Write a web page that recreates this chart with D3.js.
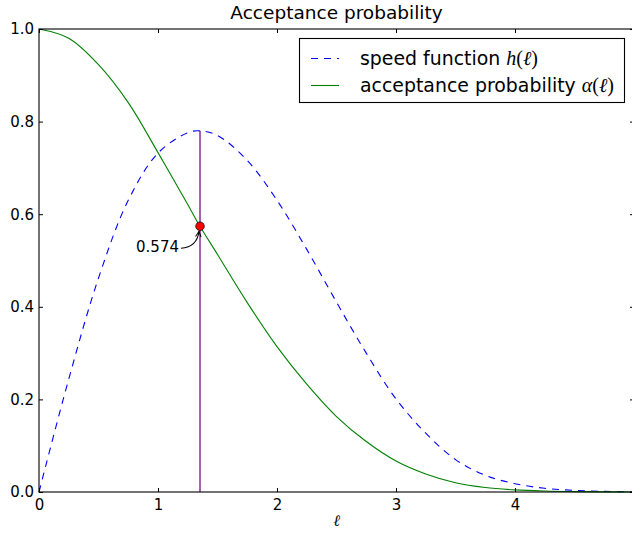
<!DOCTYPE html>
<html>
<head>
<meta charset="utf-8">
<script src="https://cdn.jsdelivr.net/npm/d3@7"></script>
<style>
  body { margin: 0; background: #fff; }
  text { font-family: "DejaVu Sans", sans-serif; fill: #000; }
  .math { font-family: "Liberation Serif", "DejaVu Serif", serif; }
</style>
</head>
<body>
<div id="chart"></div>
<script>
// values
var ell    = [0, 0.25, 0.5, 0.75, 1, 1.25, 1.35, 1.5, 1.75, 2, 2.25, 2.5, 2.75, 3, 3.25, 3.5, 3.75, 4, 4.25, 4.5, 4.75, 5];
var speed  = [0, 0.244, 0.462, 0.630, 0.732, 0.776, 0.780, 0.770, 0.716, 0.630, 0.524, 0.410, 0.300, 0.201, 0.127, 0.070, 0.036, 0.018, 0.008, 0.0035, 0.0013, 0.0005];
var accept = [1, 0.980, 0.923, 0.841, 0.733, 0.621, 0.575, 0.513, 0.409, 0.314, 0.233, 0.163, 0.109, 0.067, 0.039, 0.020, 0.0097, 0.0045, 0.002, 0.0008, 0.0003, 0.0001];
var xTicks = [0, 1, 2, 3, 4];
var yTicks = [0, 0.2, 0.4, 0.6, 0.8, 1.0];
var best = { ell: 1.353, speed: 0.780, accept: 0.574 };

var width = 632, height = 533;
var plotLeft = 39, plotTop = 29, plotRight = 634, plotBottom = 492;

var svg = d3.select("#chart").append("svg")
  .attr("width", width)
  .attr("height", height);

var x = d3.scaleLinear().domain([0, 5]).range([plotLeft, plotRight]);
var y = d3.scaleLinear().domain([0, 1]).range([plotBottom, plotTop]);

var plot = svg.append("g");

var line = function (vals) {
  return d3.line()
    .x(function (d, i) { return x(ell[i]); })
    .y(function (d) { return y(d); })
    .curve(d3.curveCatmullRom.alpha(0.5))(vals);
};

// vertical line at the optimum
plot.append("line")
  .attr("x1", x(best.ell)).attr("x2", x(best.ell))
  .attr("y1", y(0)).attr("y2", y(best.speed))
  .attr("stroke", "#9f4fac")
  .attr("stroke-width", 1.8);

plot.append("path")
  .attr("d", line(speed))
  .attr("fill", "none")
  .attr("stroke", "#0000ff")
  .attr("stroke-width", 1.1)
  .attr("stroke-dasharray", "7,6");

plot.append("path")
  .attr("d", line(accept))
  .attr("fill", "none")
  .attr("stroke", "#008000")
  .attr("stroke-width", 1.1);

// axes frame
svg.append("rect")
  .attr("x", plotLeft).attr("y", plotTop)
  .attr("width", plotRight - plotLeft).attr("height", plotBottom - plotTop)
  .attr("fill", "none")
  .attr("stroke", "#000")
  .attr("stroke-width", 1.1);

var fmtY = d3.format(".1f");

svg.append("g")
  .attr("transform", "translate(0," + plotBottom + ")")
  .call(d3.axisBottom(x).tickValues(xTicks).tickSize(-4).tickPadding(7).tickFormat(d3.format("d")))
  .call(function (g) { g.select(".domain").remove(); });

svg.append("g")
  .attr("transform", "translate(0," + plotTop + ")")
  .call(d3.axisTop(x).tickValues(xTicks).tickSize(-4).tickFormat(""))
  .call(function (g) { g.select(".domain").remove(); });

svg.append("g")
  .attr("transform", "translate(" + plotLeft + ",0)")
  .call(d3.axisLeft(y).tickValues(yTicks).tickSize(-4).tickPadding(5).tickFormat(fmtY))
  .call(function (g) { g.select(".domain").remove(); });

svg.append("g")
  .attr("transform", "translate(" + plotRight + ",0)")
  .call(d3.axisRight(y).tickValues(yTicks).tickSize(-4).tickFormat(""))
  .call(function (g) { g.select(".domain").remove(); });

svg.selectAll(".tick line").attr("stroke", "#000").attr("stroke-width", 1);
svg.selectAll(".tick text")
  .style("font-family", "'DejaVu Sans', sans-serif")
  .style("font-size", "15px")
  .attr("fill", "#000");

// annotation
var px = x(best.ell), py = y(best.accept);
svg.append("defs").append("marker")
  .attr("id", "head")
  .attr("viewBox", "0 0 10 10")
  .attr("refX", 9).attr("refY", 5)
  .attr("markerWidth", 7).attr("markerHeight", 7)
  .attr("markerUnits", "userSpaceOnUse")
  .attr("orient", "auto")
  .append("path")
  .attr("d", "M1,1 L9,5 L1,9")
  .attr("fill", "none")
  .attr("stroke", "#000")
  .attr("stroke-width", 1.4);

svg.append("path")
  .attr("d", "M" + (px - 19) + "," + (py + 22) + " Q" + (px - 3) + "," + (py + 21) + " " + (px - 1) + "," + (py + 5))
  .attr("fill", "none")
  .attr("stroke", "#000")
  .attr("stroke-width", 1.1)
  .attr("marker-end", "url(#head)");

svg.append("text")
  .attr("x", px - 21).attr("y", py + 26)
  .attr("text-anchor", "end")
  .style("font-size", "15px")
  .text(best.accept.toFixed(3));

svg.append("circle")
  .attr("cx", px).attr("cy", py)
  .attr("r", 4.3)
  .attr("fill", "#ff0000")
  .attr("stroke", "#000")
  .attr("stroke-width", 0.7);

// title and x label
svg.append("text")
  .attr("x", (plotLeft + plotRight) / 2).attr("y", 19)
  .attr("text-anchor", "middle")
  .style("font-size", "18.5px")
  .text("Acceptance probability");

svg.append("text")
  .attr("class", "math")
  .attr("x", (plotLeft + plotRight) / 2).attr("y", 526)
  .attr("text-anchor", "middle")
  .style("font-size", "16px")
  .style("font-style", "italic")
  .text("\u2113");

// legend
var legend = svg.append("g");
legend.append("rect")
  .attr("x", 299.5).attr("y", 38.5)
  .attr("width", 325).attr("height", 64)
  .attr("fill", "#fff")
  .attr("stroke", "#000")
  .attr("stroke-width", 1.1);

var items = [
  { label: "speed function ", fn: "h", color: "#0000ff", dash: "7,6", y: 58.5 },
  { label: "acceptance probability ", fn: "\u03b1", color: "#008000", dash: null, y: 85.5 }
];

items.forEach(function (it) {
  legend.append("line")
    .attr("x1", 311).attr("x2", 339)
    .attr("y1", it.y).attr("y2", it.y)
    .attr("stroke", it.color)
    .attr("stroke-width", 1.1)
    .attr("stroke-dasharray", it.dash);
  var t = legend.append("text")
    .attr("x", 360).attr("y", it.y + 6.5)
    .style("font-size", "18.9px");
  t.append("tspan").text(it.label);
  t.append("tspan").attr("class", "math").style("font-style", "italic").style("font-size", "20px").text(it.fn);
  t.append("tspan").attr("class", "math").style("font-size", "20px").text("(");
  t.append("tspan").attr("class", "math").style("font-style", "italic").style("font-size", "20px").text("\u2113");
  t.append("tspan").attr("class", "math").style("font-size", "20px").text(")");
});
</script>
</body>
</html>
